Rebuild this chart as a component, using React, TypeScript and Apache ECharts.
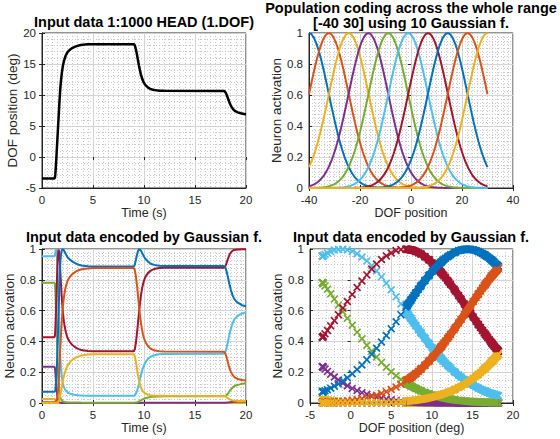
import React, { useEffect, useRef } from "react";
import * as echarts from "echarts";

// MATLAB default colour order
const BLUE = "#0072BD";
const ORANGE = "#D95319";
const YELLOW = "#EDB120";
const PURPLE = "#7E2F8E";
const GREEN = "#77AC30";
const LIGHTBLUE = "#4DBEEE";
const DARKRED = "#A2142F";

const neuronCenters = [-40, -32.2, -24.4, -16.7, -8.9, -1.1, 6.7, 14.4, 22.2, 30];
const neuronColors = [BLUE, ORANGE, YELLOW, PURPLE, GREEN, LIGHTBLUE, DARKRED, BLUE, ORANGE, YELLOW];

// Tuning profile: activation at |offset| = 0,1,2,...,30 deg
const tuningProfile = [
  1, 0.992, 0.967, 0.928, 0.876, 0.813, 0.743, 0.667, 0.589, 0.512, 0.438,
  0.368, 0.304, 0.247, 0.198, 0.156, 0.121, 0.092, 0.069, 0.051, 0.037,
  0.026, 0.018, 0.0126, 0.0086, 0.0057, 0.0037, 0.0024, 0.0015, 0.001, 0.0006,
];

// Input trajectory (top-left plot)
const timeS = [
  0, 0.5, 1.0, 1.2, 1.24,
  1.26, 1.28, 1.3, 1.32, 1.34, 1.36, 1.38, 1.4, 1.42, 1.44, 1.46, 1.48, 1.5, 1.52, 1.54,
  1.56, 1.58, 1.6, 1.62, 1.64, 1.66, 1.68, 1.7, 1.72, 1.74, 1.76, 1.78, 1.8,
  1.85, 1.9, 1.95, 2.0, 2.05, 2.1, 2.15, 2.2, 2.25, 2.3, 2.35, 2.4, 2.45, 2.5,
  2.6, 2.7, 2.8, 2.9, 3.0, 3.2, 3.4, 3.6, 3.8, 4.0, 4.5, 5.0,
  9.0, 9.1, 9.2, 9.3, 9.4, 9.5, 9.6, 9.7, 9.8, 9.9, 10.0, 10.1, 10.2, 10.3, 10.4, 10.5, 10.6,
  10.8, 11.0, 11.2, 11.5, 12.0,
  17.8, 17.9, 18.0, 18.1, 18.2, 18.3, 18.4, 18.5, 18.6, 18.7, 18.8, 18.9, 19.0,
  19.2, 19.4, 19.6, 19.8, 20.0,
];
const dofDeg = [
  -3.45, -3.45, -3.45, -3.45, -3.45,
  -3.35, -3.15, -2.85, -2.45, -2.0, -1.5, -0.95, -0.4, 0.2, 0.8, 1.4, 2.0, 2.6, 3.2, 3.8,
  4.4, 5.0, 5.6, 6.2, 6.8, 7.4, 8.0, 8.6, 9.15, 9.7, 10.2, 10.7, 11.15,
  12.1, 12.9, 13.6, 14.2, 14.7, 15.1, 15.45, 15.75, 16.0, 16.25, 16.45, 16.6, 16.75, 16.9,
  17.1, 17.25, 17.38, 17.5, 17.6, 17.75, 17.88, 17.98, 18.05, 18.1, 18.17, 18.2,
  18.2, 18.0, 17.4, 16.6, 15.7, 14.8, 14.0, 13.3, 12.75, 12.3, 11.95, 11.7, 11.5, 11.35, 11.2, 11.1, 11.0,
  10.88, 10.8, 10.75, 10.7, 10.67,
  10.65, 10.6, 10.4, 10.05, 9.6, 9.15, 8.7, 8.35, 8.05, 7.8, 7.6, 7.45, 7.35,
  7.2, 7.1, 7.0, 6.95, 6.9,
];

// Sampling range of the coding curves (deg)
const codingRange = [-40, 30];

const TITLES = [
  { text: "Input data 1:1000 HEAD (1.DOF)", x: 144, y: 22 },
  { text: "Population coding across the whole range", x: 411, y: 8 },
  { text: "[-40 30] using 10 Gaussian f.", x: 411, y: 23 },
  { text: "Input data encoded by Gaussian f.", x: 144, y: 236.5 },
  { text: "Input data encoded by Gaussian f.", x: 411, y: 236.5 },
];

const FONT = "'Liberation Sans', Arial, Helvetica, sans-serif";
const AX = "#262626";

function activation(pos: number, center: number): number {
  const d = Math.abs(pos - center);
  const i = Math.floor(d);
  const last = tuningProfile.length - 1;
  if (i >= last) return tuningProfile[last];
  const f = d - i;
  return tuningProfile[i] * (1 - f) + tuningProfile[i + 1] * f;
}

const CROSS =
  "path://M0,1.5L1.5,0L5,3.5L8.5,0L10,1.5L6.5,5L10,8.5L8.5,10L5,6.5L1.5,10L0,8.5L3.5,5Z";

export default function App() {
  const ref = useRef<HTMLDivElement>(null);
  useEffect(() => {
    if (!ref.current) return;
    const chart = echarts.init(ref.current, undefined, { renderer: "svg" });

    const grids = [
      { left: 42, top: 33, width: 204, height: 155 },
      { left: 309, top: 33, width: 204, height: 155 },
      { left: 42, top: 249, width: 204, height: 154 },
      { left: 310, top: 249, width: 203, height: 154 },
    ];
    const xCfg = [
      { min: 0, max: 20, interval: 5, minor: 10, name: "Time (s)" },
      { min: -40, max: 40, interval: 20, minor: 10, name: "DOF position" },
      { min: 0, max: 20, interval: 5, minor: 10, name: "Time (s)" },
      { min: -5, max: 20, interval: 5, minor: 5, name: "DOF position (deg)" },
    ];
    const yCfg = [
      { min: -5, max: 20, interval: 5, minor: 5, name: "DOF position (deg)" },
      { min: 0, max: 1, interval: 0.2, minor: 8, name: "Neuron activation" },
      { min: 0, max: 1, interval: 0.2, minor: 8, name: "Neuron activation" },
      { min: 0, max: 1, interval: 0.2, minor: 4, name: "Neuron activation" },
    ];

    const baseAxis = (c: any, g: number, nameSize: number) => ({
      gridIndex: g,
      min: c.min,
      max: c.max,
      interval: c.interval,
      axisLine: { show: true, onZero: false, lineStyle: { color: AX, width: 1 } },
      axisTick: { show: true, inside: true, length: 3, lineStyle: { color: AX } },
      axisLabel: { color: AX, fontSize: 11.5, fontFamily: FONT, margin: 6 },
      splitLine: { show: true, lineStyle: { color: "#d4d4d4", width: 1 } },
      minorTick: { show: false, splitNumber: c.minor },
      minorSplitLine: { show: true, lineStyle: { color: "#c8c8c8", width: 1, type: [1, 2] } },
      name: c.name,
      nameLocation: "middle",
      nameTextStyle: { color: AX, fontSize: nameSize, fontFamily: FONT },
    });
    const mirrorAxis = (c: any, g: number, position: string) => ({
      gridIndex: g,
      position,
      min: c.min,
      max: c.max,
      interval: c.interval,
      axisLine: { show: false },
      axisTick: { show: true, inside: true, length: 3, lineStyle: { color: AX } },
      axisLabel: { show: false },
      splitLine: { show: false },
    });

    const xAxis: any[] = [];
    const yAxis: any[] = [];
    for (let g = 0; g < 4; g++) {
      xAxis.push({ ...baseAxis(xCfg[g], g, 12.5), type: "value", position: "bottom", nameGap: 16 });
      xAxis.push({ ...mirrorAxis(xCfg[g], g, "top"), type: "value" });
      yAxis.push({ ...baseAxis(yCfg[g], g, 13.5), type: "value", position: "left", nameGap: g % 2 === 0 ? 21 : 22 });
      yAxis.push({ ...mirrorAxis(yCfg[g], g, "right"), type: "value" });
    }

    const series: any[] = [];
    // top-left: trajectory
    series.push({
      type: "line",
      xAxisIndex: 0,
      yAxisIndex: 0,
      data: timeS.map((t, i) => [t, dofDeg[i]]),
      showSymbol: false,
      lineStyle: { color: "#000", width: 2.5 },
      itemStyle: { color: "#000" },
    });
    // top-right: tuning curves
    const codingX: number[] = [];
    for (let x = codingRange[0]; x <= codingRange[1] + 1e-9; x += 0.5) codingX.push(x);
    neuronCenters.forEach((c, k) => {
      series.push({
        type: "line",
        xAxisIndex: 2,
        yAxisIndex: 2,
        data: codingX.map((x) => [x, activation(x, c)]),
        showSymbol: false,
        lineStyle: { color: neuronColors[k], width: 2 },
        itemStyle: { color: neuronColors[k] },
      });
    });
    // bottom-left: encoded over time
    neuronCenters.forEach((c, k) => {
      series.push({
        type: "line",
        xAxisIndex: 4,
        yAxisIndex: 4,
        data: timeS.map((t, i) => [t, activation(dofDeg[i], c)]),
        showSymbol: false,
        lineStyle: { color: neuronColors[k], width: 2 },
        itemStyle: { color: neuronColors[k] },
      });
    });
    // bottom-right: encoded vs position
    const sortedIdx = dofDeg
      .map((p, i) => i)
      .filter((i) => dofDeg[i] >= 6.85)
      .sort((a, b) => dofDeg[a] - dofDeg[b]);
    neuronCenters.forEach((c, k) => {
      series.push({
        type: "line",
        xAxisIndex: 6,
        yAxisIndex: 6,
        data: sortedIdx.map((i) => [dofDeg[i], activation(dofDeg[i], c)]),
        showSymbol: false,
        lineStyle: { color: neuronColors[k], width: 8 },
        itemStyle: { color: neuronColors[k] },
      });
      series.push({
        type: "scatter",
        xAxisIndex: 6,
        yAxisIndex: 6,
        symbol: CROSS,
        symbolSize: 8,
        data: dofDeg.map((p) => [p, activation(p, c)]),
        itemStyle: { color: neuronColors[k], opacity: 1 },
      });
    });

    chart.setOption({
      animation: false,
      backgroundColor: "#fff",
      grid: grids.map((g) => ({ ...g, show: true, borderColor: AX, borderWidth: 1, backgroundColor: "#fff" })),
      xAxis,
      yAxis,
      series,
      graphic: TITLES.map((t) => ({
        type: "text",
        x: t.x,
        y: t.y,
        style: {
          text: t.text,
          font: `bold 14.5px ${FONT}`,
          fill: "#000",
          textAlign: "center",
          textVerticalAlign: "middle",
        },
      })),
    });
    return () => chart.dispose();
  }, []);
  return (
    <div
      ref={ref}
      style={{ position: "fixed", left: 0, top: 0, width: 560, height: 439, background: "#fff" }}
    />
  );
}
